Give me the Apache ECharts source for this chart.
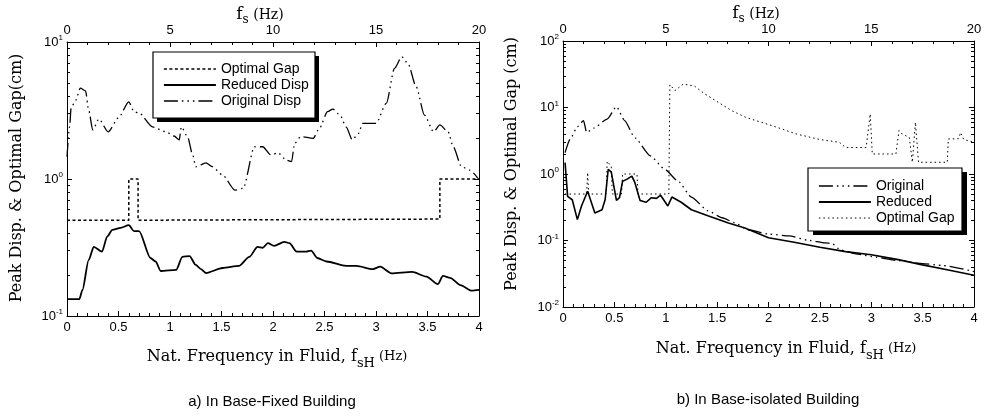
<!DOCTYPE html>
<html>
<head>
<meta charset="utf-8">
<script src="https://cdn.jsdelivr.net/npm/echarts@6/dist/echarts.min.js"></script>
<style>
  html, body { margin: 0; padding: 0; background: #fff; }
  #main { width: 995px; height: 416px; }
</style>
</head>
<body>
<div id="main"></div>
<script>
// a) base-fixed building: [f_sH (Hz), cm]
var aOptimalGap = [[0, 0.5], [0.6, 0.5], [0.6, 1], [0.69, 1], [0.69, 0.5], [3.62, 0.51], [3.62, 1], [4, 1]];
var aReduced = [[0, 0.133], [0.12, 0.133], [0.15, 0.155], [0.21, 0.256], [0.26, 0.32], [0.34, 0.295], [0.39, 0.38],
  [0.44, 0.425], [0.52, 0.44], [0.6, 0.46], [0.65, 0.417], [0.7, 0.417], [0.81, 0.265], [0.86, 0.25], [0.91, 0.213],
  [1.06, 0.217], [1.12, 0.27], [1.19, 0.274], [1.25, 0.236], [1.3, 0.22], [1.35, 0.206], [1.51, 0.224], [1.67, 0.232],
  [1.77, 0.27], [1.85, 0.32], [1.9, 0.315], [1.95, 0.34], [2.01, 0.325], [2.11, 0.348], [2.16, 0.34], [2.23, 0.295],
  [2.32, 0.295], [2.37, 0.3], [2.43, 0.265], [2.52, 0.25], [2.71, 0.232], [2.81, 0.232], [2.97, 0.22], [3.04, 0.229],
  [3.15, 0.205], [3.35, 0.21], [3.49, 0.194], [3.6, 0.171], [3.65, 0.196], [3.72, 0.19], [3.82, 0.168], [3.93, 0.153],
  [4, 0.155]];
var aOriginal = [[0, 1.45], [0.025, 2.4], [0.04, 3.3], [0.08, 3.7], [0.13, 4.6], [0.18, 4.4], [0.21, 3.2], [0.25, 2.28],
  [0.31, 2.74], [0.4, 2.21], [0.5, 2.8], [0.6, 3.66], [0.65, 3.1], [0.7, 3.03], [0.83, 2.4], [0.96, 2.21], [1.04, 2.06],
  [1.09, 1.93], [1.11, 2.4], [1.17, 2.04], [1.22, 1.5], [1.25, 1.23], [1.35, 1.31], [1.41, 1.23], [1.51, 1.07],
  [1.63, 0.83], [1.71, 0.855], [1.82, 1.72], [1.9, 1.72], [1.98, 1.5], [2.05, 1.55], [2.13, 1.37], [2.18, 1.34],
  [2.21, 1.82], [2.27, 2.04], [2.39, 1.98], [2.45, 2.34], [2.53, 3.1], [2.58, 3.24], [2.65, 2.93], [2.71, 2.4],
  [2.77, 1.93], [2.83, 2.15], [2.87, 2.55], [3, 2.55], [3.1, 3.57], [3.18, 6.42], [3.25, 7.8], [3.31, 6.98],
  [3.39, 4.72], [3.47, 2.93], [3.56, 2.21], [3.62, 2.48], [3.7, 2.21], [3.75, 1.72], [3.83, 1.23], [3.91, 1.16],
  [3.99, 1.01]];

// b) base-isolated building
var bOriginal = [[0.02, 2.1], [0.07, 3.36], [0.14, 5.15], [0.2, 6.35], [0.23, 4.2], [0.3, 4.9], [0.43, 6.7], [0.52, 10.3],
  [0.6, 6.35], [0.7, 3.5], [0.85, 1.87], [0.99, 1.18], [1.12, 0.78], [1.25, 0.45], [1.41, 0.28], [1.55, 0.22],
  [1.67, 0.185], [1.8, 0.145], [2, 0.125], [2.2, 0.117], [2.4, 0.1], [2.55, 0.092], [2.62, 0.09], [2.7, 0.072],
  [2.85, 0.063], [3.05, 0.056], [3.25, 0.05], [3.5, 0.045], [3.7, 0.042], [4, 0.034]];
var bReduced = [[0.02, 1.48], [0.045, 0.46], [0.09, 0.41], [0.14, 0.206], [0.18, 0.33], [0.24, 0.55], [0.31, 0.26],
  [0.38, 0.29], [0.41, 0.41], [0.44, 1.18], [0.47, 1.07], [0.52, 0.4], [0.55, 0.44], [0.58, 0.78], [0.62, 0.83],
  [0.67, 0.93], [0.7, 0.74], [0.75, 0.4], [0.81, 0.376], [0.86, 0.44], [0.91, 0.43], [0.95, 0.48], [1.02, 0.33],
  [1.06, 0.45], [1.15, 0.376], [1.25, 0.29], [1.41, 0.236], [1.61, 0.183], [1.77, 0.154], [2, 0.11], [2.25, 0.094],
  [2.5, 0.079], [2.75, 0.068], [3, 0.061], [3.25, 0.052], [3.5, 0.043], [3.75, 0.036], [4, 0.03]];
var bOptimalGap = [[0.02, 0.5], [0.23, 0.5], [0.24, 1.05], [0.25, 0.5], [0.42, 0.5], [0.43, 1.55], [0.47, 1.3],
  [0.48, 0.5], [0.57, 0.5], [0.58, 1], [0.72, 1], [0.73, 0.5], [1.03, 0.5], [1.04, 22], [1.09, 18], [1.17, 22.5],
  [1.28, 21], [1.38, 16], [1.51, 12], [1.64, 9], [1.78, 7.1], [2.04, 5.3], [2.27, 4], [2.5, 3.3], [2.69, 3],
  [2.75, 2.5], [2.95, 2.5], [2.99, 8], [3.01, 2], [3.24, 2], [3.27, 4.5], [3.3, 4], [3.37, 3.55], [3.4, 1.5],
  [3.43, 6], [3.46, 1.5], [3.74, 1.5], [3.75, 3.36], [3.85, 3.4], [3.87, 4.2], [3.9, 3.3], [4, 3]];

// minor tick positions on the log axes, in log10 space
function logMinors(loExp, hiExp) {
  var out = [];
  for (var e = loExp; e < hiExp; e++) {
    for (var k = 2; k <= 9; k++) out.push(e + Math.log10(k));
  }
  return out;
}
var aMinorTicks = logMinors(-1, 1);
var bMinorTicks = logMinors(-2, 2);

var sans = 'Liberation Sans';
var serif = 'DejaVu Serif';
var dashDots = [14, 4, 1.5, 4, 1.5, 4, 1.5, 4];

var myChart = echarts.init(document.getElementById('main'));

function xBottom(grid) {
  return {
    type: 'value', gridIndex: grid, position: 'bottom', min: 0, max: 4, interval: 0.5,
    axisLine: { onZero: false, lineStyle: { color: '#000', width: 1 } },
    axisTick: { inside: true, length: 5, lineStyle: { color: '#000' } },
    minorTick: { show: true, splitNumber: 5, length: 3, lineStyle: { color: '#000' } },
    axisLabel: { color: '#000', fontFamily: sans, fontSize: 13, margin: 5 },
    splitLine: { show: false }
  };
}
function xTop(grid) {
  return {
    type: 'value', gridIndex: grid, position: 'top', min: 0, max: 20, interval: 5,
    axisLine: { onZero: false, lineStyle: { color: '#000', width: 1 } },
    axisTick: { inside: true, length: 5, lineStyle: { color: '#000' } },
    minorTick: { show: true, splitNumber: 5, length: 3, lineStyle: { color: '#000' } },
    axisLabel: { color: '#000', fontFamily: sans, fontSize: 13, margin: 5 },
    splitLine: { show: false }
  };
}
function yLog(grid, lo, hi, pos) {
  return {
    type: 'log', logBase: 10, gridIndex: grid, position: pos, min: lo, max: hi,
    axisLine: { show: true, onZero: false, lineStyle: { color: '#000', width: 1 } },
    axisTick: { show: true, inside: true, length: 5, lineStyle: { color: '#000' } },
    axisLabel: {
      show: pos === 'left', margin: 4,
      formatter: function (v) { return '{b|10}{s|' + Math.round(Math.log10(v)) + '}'; },
      rich: {
        b: { fontFamily: sans, fontSize: 13, color: '#000', lineHeight: 16 },
        s: { fontFamily: sans, fontSize: 8, color: '#000', lineHeight: 8, verticalAlign: 'top' }
      }
    },
    splitLine: { show: false }
  };
}
function yMinor(grid, lo, hi, pos, ticks) {
  return {
    type: 'value', gridIndex: grid, position: pos, min: lo, max: hi,
    axisLine: { show: false, onZero: false },
    axisTick: { show: true, inside: true, length: 3, customValues: ticks, lineStyle: { color: '#000' } },
    axisLabel: { show: false },
    splitLine: { show: false }
  };
}
function legendItem(name, type, width) {
  return { name: name, lineStyle: { color: '#000', type: type, width: width }, itemStyle: { opacity: 0 } };
}
// legend frame with its solid drop shadow
function frame(x, y, w, h, sx, sy) {
  return [
    { type: 'rect', z: 5, shape: { x: x + sx, y: y + sy, width: w, height: h }, style: { fill: '#000' } },
    { type: 'rect', z: 6, shape: { x: x, y: y, width: w, height: h }, style: { fill: '#fff', stroke: '#000', lineWidth: 1.2 } }
  ];
}

var legendBase = {
  orient: 'vertical', selectedMode: false, itemWidth: 52, itemHeight: 14, itemGap: 2, z: 10,
  textStyle: { fontFamily: sans, fontSize: 14, color: '#000', lineHeight: 14 },
  formatter: function (n) { return n.replace(' (b)', ''); }
};

var option = {
  animation: false,
  grid: [
    { left: 67, top: 42, width: 412, height: 274 },
    { left: 563, top: 41, width: 411, height: 266 }
  ],
  xAxis: [xBottom(0), xTop(0), xBottom(1), xTop(1)],
  yAxis: [
    yLog(0, 0.1, 10, 'left'), yLog(0, 0.1, 10, 'right'),
    yMinor(0, -1, 1, 'left', aMinorTicks), yMinor(0, -1, 1, 'right', aMinorTicks),
    yLog(1, 0.01, 100, 'left'), yLog(1, 0.01, 100, 'right'),
    yMinor(1, -2, 2, 'left', bMinorTicks), yMinor(1, -2, 2, 'right', bMinorTicks)
  ],
  legend: [
    Object.assign({}, legendBase, {
      left: 153, top: 52, padding: [10, 10, 10, 10],
      data: [legendItem('Optimal Gap', [3, 2.5], 1.5), legendItem('Reduced Disp', 'solid', 1.8),
        legendItem('Original Disp', dashDots, 1.3)]
    }),
    Object.assign({}, legendBase, {
      left: 808, top: 168, padding: [11, 10, 8, 10],
      data: [legendItem('Original', dashDots, 1.3), legendItem('Reduced', 'solid', 1.8),
        legendItem('Optimal Gap (b)', [1.5, 3], 1)]
    })
  ],
  series: [
    { name: 'Optimal Gap', type: 'line', xAxisIndex: 0, yAxisIndex: 0, data: aOptimalGap, symbol: 'none',
      lineStyle: { color: '#000', width: 1.5, type: [3, 2.5] } },
    { name: 'Reduced Disp', type: 'line', xAxisIndex: 0, yAxisIndex: 0, data: aReduced, symbol: 'none',
      smooth: 0.25, smoothMonotone: 'x', lineStyle: { color: '#000', width: 1.8 } },
    { name: 'Original Disp', type: 'line', xAxisIndex: 0, yAxisIndex: 0, data: aOriginal, symbol: 'none',
      smooth: 0.25, smoothMonotone: 'x', lineStyle: { color: '#000', width: 1.3, type: dashDots } },
    { name: 'Original', type: 'line', xAxisIndex: 2, yAxisIndex: 4, data: bOriginal, symbol: 'none',
      smooth: 0.2, smoothMonotone: 'x', lineStyle: { color: '#000', width: 1.3, type: dashDots } },
    { name: 'Reduced', type: 'line', xAxisIndex: 2, yAxisIndex: 4, data: bReduced, symbol: 'none',
      lineStyle: { color: '#000', width: 1.6 } },
    { name: 'Optimal Gap (b)', type: 'line', xAxisIndex: 2, yAxisIndex: 4, data: bOptimalGap, symbol: 'none',
      lineStyle: { color: '#000', width: 1, type: [1.5, 3] } }
  ],
  graphic: frame(153, 52, 162, 66, 4, 4).concat(frame(808, 168, 154, 63, 5, 4)).concat([
    { type: 'text', x: 260, y: 15, style: {
      text: '{f|f}{s|s}{h| (Hz)}', align: 'center', verticalAlign: 'middle',
      rich: {
        f: { fontFamily: serif, fontSize: 17, lineHeight: 22, fill: '#000' },
        s: { fontFamily: serif, fontSize: 12, lineHeight: 12, verticalAlign: 'bottom', fill: '#000' },
        h: { fontFamily: serif, fontSize: 14, lineHeight: 22, fill: '#000' }
      } } },
    { type: 'text', x: 756, y: 14, style: {
      text: '{f|f}{s|s}{h| (Hz)}', align: 'center', verticalAlign: 'middle',
      rich: {
        f: { fontFamily: serif, fontSize: 17, lineHeight: 22, fill: '#000' },
        s: { fontFamily: serif, fontSize: 12, lineHeight: 12, verticalAlign: 'bottom', fill: '#000' },
        h: { fontFamily: serif, fontSize: 14, lineHeight: 22, fill: '#000' }
      } } },
    { type: 'text', x: 277, y: 357, style: {
      text: '{n|Nat. Frequency in Fluid, f}{s|sH}{h| (Hz)}', align: 'center', verticalAlign: 'middle',
      rich: {
        n: { fontFamily: serif, fontSize: 16, lineHeight: 26, fill: '#000' },
        s: { fontFamily: serif, fontSize: 13, lineHeight: 14, verticalAlign: 'bottom', fill: '#000' },
        h: { fontFamily: serif, fontSize: 13, lineHeight: 26, fill: '#000' }
      } } },
    { type: 'text', x: 786, y: 349, style: {
      text: '{n|Nat. Frequency in Fluid, f}{s|sH}{h| (Hz)}', align: 'center', verticalAlign: 'middle',
      rich: {
        n: { fontFamily: serif, fontSize: 16, lineHeight: 26, fill: '#000' },
        s: { fontFamily: serif, fontSize: 13, lineHeight: 14, verticalAlign: 'bottom', fill: '#000' },
        h: { fontFamily: serif, fontSize: 13, lineHeight: 26, fill: '#000' }
      } } },
    { type: 'text', x: 17, y: 178, rotation: Math.PI / 2, style: {
      text: 'Peak Disp. & Optimal Gap(cm)', align: 'center', verticalAlign: 'middle',
      font: '16px "DejaVu Serif"', fill: '#000' } },
    { type: 'text', x: 512, y: 164, rotation: Math.PI / 2, style: {
      text: 'Peak Disp. & Optimal Gap (cm)', align: 'center', verticalAlign: 'middle',
      font: '16px "DejaVu Serif"', fill: '#000' } },
    { type: 'text', x: 272, y: 402, style: {
      text: 'a) In Base-Fixed Building', align: 'center', verticalAlign: 'middle',
      font: '15px "Liberation Sans"', fill: '#000' } },
    { type: 'text', x: 768, y: 400, style: {
      text: 'b) In Base-isolated Building', align: 'center', verticalAlign: 'middle',
      font: '15px "Liberation Sans"', fill: '#000' } }
  ])
};

option && myChart.setOption(option);
</script>
</body>
</html>
